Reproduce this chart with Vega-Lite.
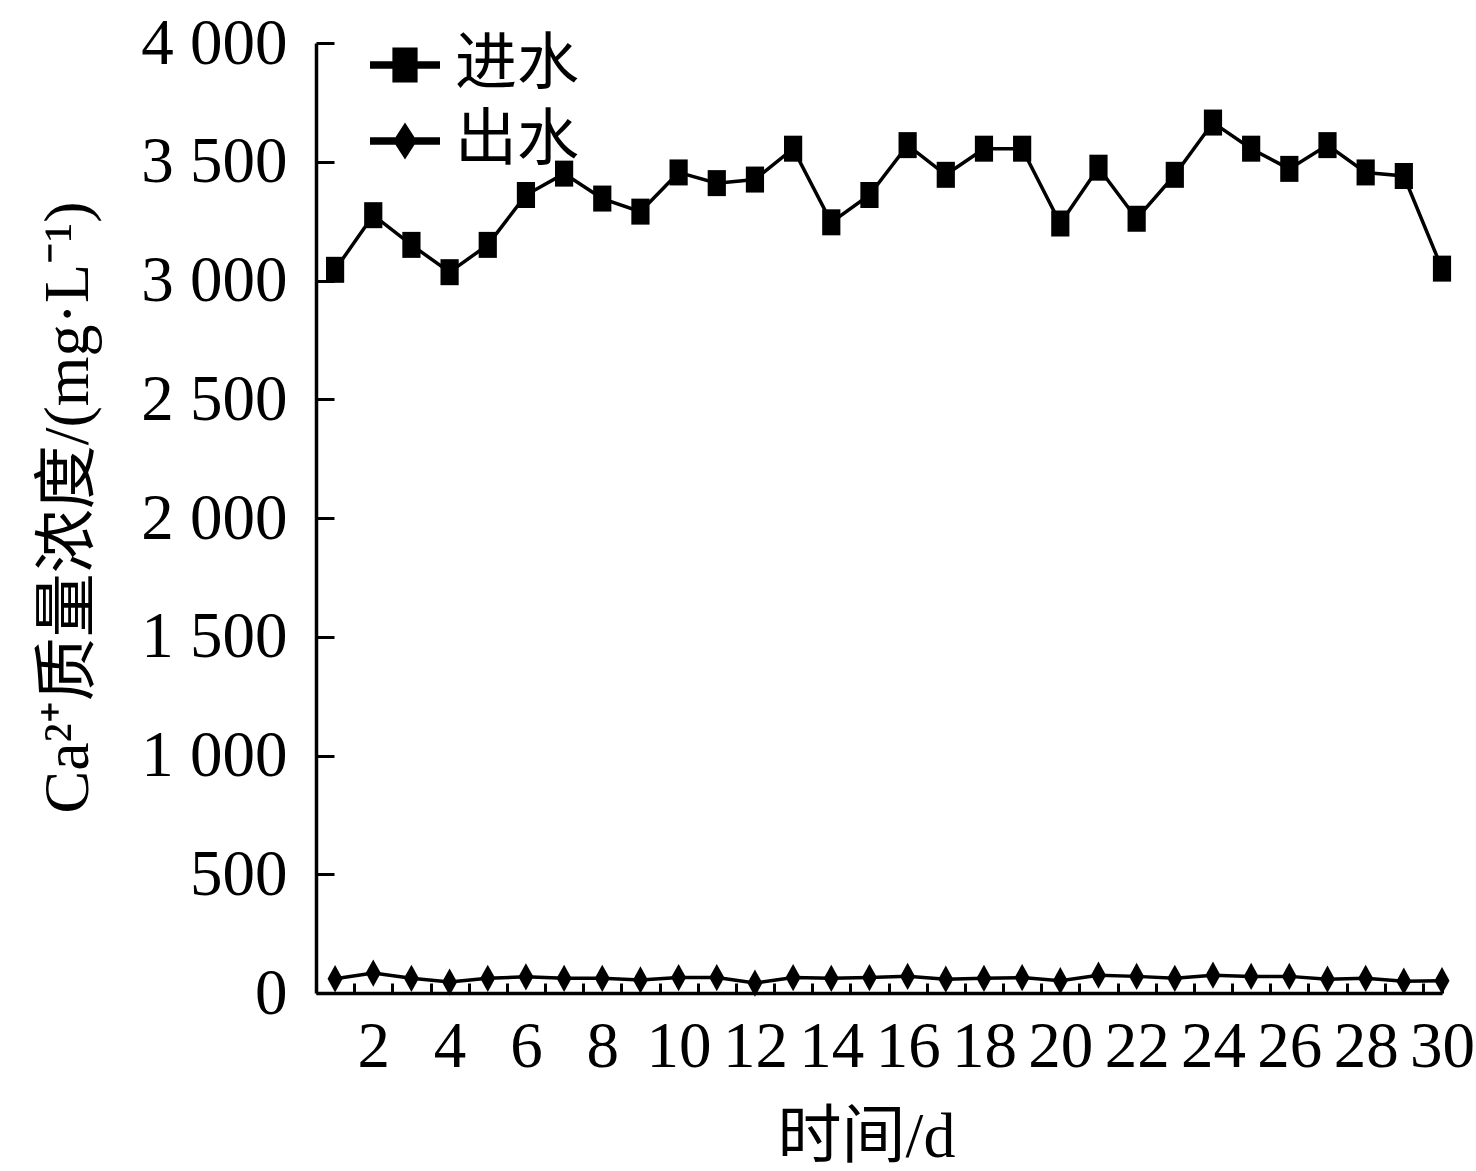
{
  "$schema": "https://vega.github.io/schema/vega-lite/v6.json",
  "width": 1126,
  "height": 950,
  "autosize": {"type": "none"},
  "padding": {"left": 316, "top": 43, "right": 34, "bottom": 178},
  "background": "white",
  "config": {
    "font": "Liberation Serif, Noto Sans CJK SC",
    "view": {"stroke": null},
    "axis": {
      "grid": false,
      "zindex": 1,
      "domainColor": "black",
      "domainWidth": 3.5,
      "tickColor": "black",
      "tickWidth": 3,
      "labelFontSize": 65,
      "labelColor": "black",
      "labelFont": "Liberation Serif",
      "titleFontSize": 64,
      "titleFontWeight": "normal",
      "titleColor": "black",
      "titleFont": "Liberation Serif, Noto Sans CJK SC"
    },
    "legend": {
      "labelFontSize": 62,
      "labelColor": "black",
      "labelFont": "Liberation Serif, Noto Sans CJK SC",
      "symbolSize": 4900,
      "symbolOpacity": 1,
      "symbolFillColor": "black",
      "symbolStrokeWidth": 0,
      "labelOffset": 15,
      "rowPadding": 10
    }
  },
  "data": {
    "values": [
      {"day": 1, "series": "进水", "value": 3045},
      {"day": 2, "series": "进水", "value": 3275},
      {"day": 3, "series": "进水", "value": 3150},
      {"day": 4, "series": "进水", "value": 3035},
      {"day": 5, "series": "进水", "value": 3150},
      {"day": 6, "series": "进水", "value": 3360},
      {"day": 7, "series": "进水", "value": 3450},
      {"day": 8, "series": "进水", "value": 3345},
      {"day": 9, "series": "进水", "value": 3290},
      {"day": 10, "series": "进水", "value": 3455},
      {"day": 11, "series": "进水", "value": 3410},
      {"day": 12, "series": "进水", "value": 3425},
      {"day": 13, "series": "进水", "value": 3555},
      {"day": 14, "series": "进水", "value": 3245},
      {"day": 15, "series": "进水", "value": 3360},
      {"day": 16, "series": "进水", "value": 3570},
      {"day": 17, "series": "进水", "value": 3445},
      {"day": 18, "series": "进水", "value": 3555},
      {"day": 19, "series": "进水", "value": 3555},
      {"day": 20, "series": "进水", "value": 3240},
      {"day": 21, "series": "进水", "value": 3475},
      {"day": 22, "series": "进水", "value": 3260},
      {"day": 23, "series": "进水", "value": 3445},
      {"day": 24, "series": "进水", "value": 3665},
      {"day": 25, "series": "进水", "value": 3555},
      {"day": 26, "series": "进水", "value": 3470},
      {"day": 27, "series": "进水", "value": 3570},
      {"day": 28, "series": "进水", "value": 3455},
      {"day": 29, "series": "进水", "value": 3440},
      {"day": 30, "series": "进水", "value": 3050},
      {"day": 1, "series": "出水", "value": 60},
      {"day": 2, "series": "出水", "value": 84},
      {"day": 3, "series": "出水", "value": 62},
      {"day": 4, "series": "出水", "value": 46},
      {"day": 5, "series": "出水", "value": 62},
      {"day": 6, "series": "出水", "value": 68},
      {"day": 7, "series": "出水", "value": 62},
      {"day": 8, "series": "出水", "value": 62},
      {"day": 9, "series": "出水", "value": 55},
      {"day": 10, "series": "出水", "value": 65},
      {"day": 11, "series": "出水", "value": 65},
      {"day": 12, "series": "出水", "value": 42},
      {"day": 13, "series": "出水", "value": 65},
      {"day": 14, "series": "出水", "value": 62},
      {"day": 15, "series": "出水", "value": 65},
      {"day": 16, "series": "出水", "value": 70},
      {"day": 17, "series": "出水", "value": 58},
      {"day": 18, "series": "出水", "value": 62},
      {"day": 19, "series": "出水", "value": 65},
      {"day": 20, "series": "出水", "value": 52},
      {"day": 21, "series": "出水", "value": 75},
      {"day": 22, "series": "出水", "value": 70},
      {"day": 23, "series": "出水", "value": 62},
      {"day": 24, "series": "出水", "value": 75},
      {"day": 25, "series": "出水", "value": 70},
      {"day": 26, "series": "出水", "value": 70},
      {"day": 27, "series": "出水", "value": 58},
      {"day": 28, "series": "出水", "value": 62},
      {"day": 29, "series": "出水", "value": 50},
      {"day": 30, "series": "出水", "value": 52}
    ]
  },
  "encoding": {
    "y": {
      "field": "value",
      "type": "quantitative",
      "scale": {"domain": [0, 4000], "nice": false},
      "axis": {
        "title": "Ca²⁺质量浓度/(mg·L⁻¹)",
        "values": [0,500,1000,1500,2000,2500,3000,3500,4000],
        "labelExpr": "replace(format(datum.value, ','), ',', ' ')",
        "tickSize": -18,
        "labelPadding": 47,
        "labelFlush": false,
        "labelOverlap": false,
        "titleX": -216,
        "titleY": 464,
        "titleAlign": "center"
      }
    }
  },
  "layer": [
    {
      "mark": {"type": "line", "color": "black", "strokeWidth": 3.5},
      "encoding": {
        "x": {
          "field": "day",
          "type": "quantitative",
          "scale": {"domain": [0.5, 30], "nice": false, "zero": false},
          "axis": {
            "orient": "bottom",
            "title": null,
            "values": [1.5,2.5,3.5,4.5,5.5,6.5,7.5,8.5,9.5,10.5,11.5,12.5,13.5,14.5,15.5,16.5,17.5,18.5,19.5,20.5,21.5,22.5,23.5,24.5,25.5,26.5,27.5,28.5,29.5,30],
            "labels": false,
            "tickSize": -10
          }
        },
        "detail": {"field": "series"}
      }
    },
    {
      "mark": {"type": "point", "filled": true, "color": "black", "opacity": 1, "size": 676},
      "encoding": {
        "x": {
          "field": "day",
          "type": "quantitative",
          "scale": {"domain": [0.5, 30], "nice": false, "zero": false},
          "axis": {
            "orient": "bottom",
            "title": "时间/d",
            "values": [2,4,6,8,10,12,14,16,18,20,22,24,26,28,30],
            "ticks": false,
            "domain": false,
            "labelPadding": 22,
            "labelFlush": false,
            "labelOverlap": false,
            "titlePadding": 26,
            "titleX": 550,
            "titleAlign": "center"
          }
        },
        "shape": {
          "field": "series",
          "scale": {
            "domain": ["进水", "出水"],
            "range": ["M-0.7,-1H0.7V1H-0.7Z", "M0,-1.05L0.58,0L0,1.05L-0.58,0Z"]
          },
          "legend": null
        }
      }
    },
    {
      "mark": {"type": "point", "filled": true, "color": "black", "opacity": 0},
      "encoding": {
        "x": {
          "field": "day",
          "type": "quantitative",
          "scale": {"domain": [0.5, 30], "nice": false, "zero": false},
          "axis": null
        },
        "shape": {
          "field": "series",
          "scale": {
            "domain": ["进水", "出水"],
            "range": [
              "M-1,-0.11H1V0.11H-1Z M-0.36,-0.5H0.36V0.5H-0.36Z",
              "M-1,-0.11H1V0.11H-1Z M0,-0.53L0.34,0L0,0.53L-0.34,0Z"
            ]
          },
          "legend": {
            "title": null,
            "orient": "none",
            "legendX": 54,
            "legendY": -13
          }
        }
      }
    }
  ],
  "resolve": {"scale": {"shape": "independent"}, "axis": {"x": "independent"}}
}
